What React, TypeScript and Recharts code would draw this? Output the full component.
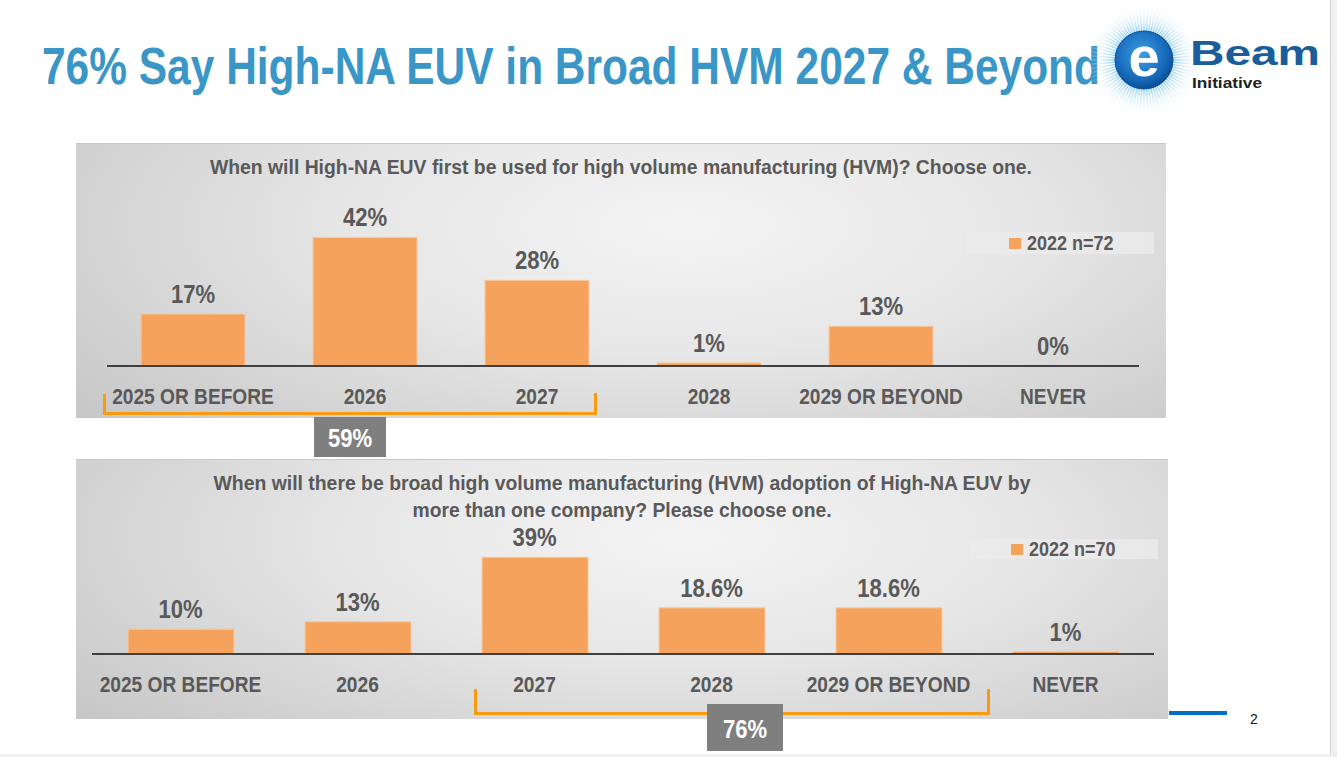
import { Bar, ComposedChart, LabelList, Legend, Line, XAxis, YAxis } from "recharts";

const FONT = "'Liberation Sans', Arial, Helvetica, sans-serif";
const BAR_COLOR = "#f5a25d";
const TEXT_GRAY = "#595959";
const BRACKET = "#f99b0f";

// chart 1: first HVM use
const firstUseYears = ["2025 OR BEFORE", "2026", "2027", "2028", "2029 OR BEYOND", "NEVER"];
const firstUseShares = [17, 42, 28, 1, 13, 0];
const firstUseSeries = "2022 n=72";
const firstUseTitle = "When will High-NA EUV first be used for high volume manufacturing (HVM)? Choose one.";

// chart 2: broad HVM adoption
const broadYears = ["2025 OR BEFORE", "2026", "2027", "2028", "2029 OR BEYOND", "NEVER"];
const broadShares = [10, 13, 39, 18.6, 18.6, 1];
const broadSeries = "2022 n=70";
const broadTitle = [
  "When will there be broad high volume manufacturing (HVM) adoption of High-NA EUV by",
  "more than one company? Please choose one.",
];

const bracketTotals = ["59%", "76%"];
const yDomain = [0, 50];
const slideTitle = "76% Say High-NA EUV in Broad HVM 2027 & Beyond";

function NarrowText({ x, y, size, fill = TEXT_GRAY, sx = 0.87, anchor = "middle", children }: any) {
  return (
    <text
      transform={`translate(${x},${y}) scale(${sx},1)`}
      textAnchor={anchor}
      fontSize={size}
      fontWeight="bold"
      fill={fill}
      fontFamily={FONT}
    >
      {children}
    </text>
  );
}

const AxisTick = (props: any) => {
  const { x, y, payload } = props;
  return (
    <NarrowText x={x} y={y + 38} size={22}>
      {payload.value}
    </NarrowText>
  );
};

// labels hang off an invisible line so that a 0% bar still gets its value
const ValueLabel = (props: any) => {
  const { x, y, value } = props;
  return (
    <NarrowText x={Number(x)} y={Number(y) - 11} size={26} sx={0.85}>
      {`${value}%`}
    </NarrowText>
  );
};

function LegendBox({ payload, w, h }: any) {
  const item = (payload || []).find((p: any) => p.type !== "none");
  const label = item ? item.value : "";
  return (
    <svg width={w} height={h} style={{ display: "block" }}>
      <rect x={0} y={0} width={w} height={h} fill="#ebebeb" fillOpacity={0.8} />
      <rect x={42} y={h / 2 - 5} width={12} height={11} fill={BAR_COLOR} />
      <NarrowText x={60} y={h / 2 + 7} size={20} anchor="start" sx={0.9}>
        {label}
      </NarrowText>
    </svg>
  );
}

function SurveyChart({ years, shares, series, width, height, margin, axisHeight, barSize, legend }: any) {
  const data = years.map((year: string, i: number) => ({ year, share: shares[i] }));
  return (
    <ComposedChart width={width} height={height} data={data} margin={margin}>
      <XAxis
        dataKey="year"
        height={axisHeight}
        interval={0}
        tickLine={false}
        tickSize={0}
        tickMargin={0}
        axisLine={{ stroke: "#404040", strokeWidth: 2 }}
        tick={<AxisTick />}
      />
      <YAxis hide domain={yDomain} />
      <Legend
        layout="vertical"
        align="center"
        verticalAlign="middle"
        wrapperStyle={{ position: "absolute", left: legend.left, top: legend.top, width: legend.w, height: legend.h }}
        content={(p: any) => <LegendBox payload={p.payload} w={legend.w} h={legend.h} />}
      />
      <Bar dataKey="share" name={series} fill={BAR_COLOR} stroke="#f9c99c" strokeWidth={1} barSize={barSize} isAnimationActive={false} />
      <Line
        dataKey="share"
        stroke="none"
        dot={false}
        activeDot={false}
        legendType="none"
        isAnimationActive={false}
      >
        <LabelList dataKey="share" content={<ValueLabel />} />
      </Line>
    </ComposedChart>
  );
}

function Logo() {
  const cx = 1144;
  const cy = 60;
  const rays = Array.from({ length: 80 }, (_, i) => (i * 2 * Math.PI) / 80);
  return (
    <g>
      <defs>
        <radialGradient id="rayGrad" cx={cx} cy={cy} r={58} gradientUnits="userSpaceOnUse">
          <stop offset="0.45" stopColor="#6cc0f0" stopOpacity={1} />
          <stop offset="1" stopColor="#ffffff" stopOpacity={0} />
        </radialGradient>
        <radialGradient id="ballGrad" cx="45%" cy="40%" r="60%">
          <stop offset="0" stopColor="#3d9fe6" />
          <stop offset="0.75" stopColor="#1668b8" />
          <stop offset="1" stopColor="#0a4d97" />
        </radialGradient>
      </defs>
      {rays.map((a, i) => (
        <line
          key={i}
          x1={cx + 20 * Math.cos(a)}
          y1={cy + 20 * Math.sin(a)}
          x2={cx + 58 * Math.cos(a)}
          y2={cy + 58 * Math.sin(a)}
          stroke="url(#rayGrad)"
          strokeWidth={1.4}
        />
      ))}
      <circle cx={cx} cy={cy} r={29} fill="url(#ballGrad)" stroke="#0b4f99" strokeWidth={1} />
      <text x={cx} y={cy + 16} textAnchor="middle" fontSize={56} fontWeight="bold" fill="#ffffff" fontFamily={FONT}>
        e
      </text>
      <text x={1190} y={65} fontSize={35} fontWeight="bold" fill="#1b5c9a" fontFamily={FONT} textLength={130} lengthAdjust="spacingAndGlyphs">
        Beam
      </text>
      <text x={1192} y={88} fontSize={14} fontWeight="bold" fill="#222222" fontFamily={FONT} textLength={70} lengthAdjust="spacingAndGlyphs">
        Initiative
      </text>
    </g>
  );
}

const panelBg =
  "radial-gradient(ellipse 75% 115% at 56% 30%, #f4f4f4 0%, #e7e7e7 40%, #c4c4c4 100%)";

export default function App() {
  return (
    <div
      style={{
        position: "absolute",
        left: 0,
        top: 0,
        width: 1337,
        height: 757,
        background: "#ffffff",
        overflow: "hidden",
        fontFamily: FONT,
      }}
    >
      <div style={{ position: "absolute", left: 1330, top: 0, width: 7, height: 757, background: "#f0f0f0", borderLeft: "1px solid #cfcfcf" }} />
      <div style={{ position: "absolute", left: 0, top: 754, width: 1337, height: 3, background: "#efefef" }} />

      <div style={{ position: "absolute", left: 76, top: 143, width: 1090, height: 275, background: panelBg, borderTop: "1px solid #c9c9c9", boxSizing: "border-box" }} />
      <div style={{ position: "absolute", left: 76, top: 459, width: 1092, height: 260, background: panelBg, borderTop: "1px solid #c9c9c9", boxSizing: "border-box" }} />

      <div style={{ position: "absolute", left: 76, top: 143 }}>
        <SurveyChart
          years={firstUseYears}
          shares={firstUseShares}
          series={firstUseSeries}
          width={1090}
          height={275}
          margin={{ top: 70, right: 27, bottom: 0, left: 31 }}
          axisHeight={52}
          barSize={104}
          legend={{ left: 891, top: 89, w: 187, h: 22 }}
        />
      </div>
      <div style={{ position: "absolute", left: 76, top: 459 }}>
        <SurveyChart
          years={broadYears}
          shares={broadShares}
          series={broadSeries}
          width={1092}
          height={260}
          margin={{ top: 71, right: 14, bottom: 0, left: 16 }}
          axisHeight={65}
          barSize={106}
          legend={{ left: 893, top: 80, w: 189, h: 20 }}
        />
      </div>

      <svg width={1337} height={757} style={{ position: "absolute", left: 0, top: 0, pointerEvents: "none" }}>
        <text x={42} y={84} fontSize={52} fontWeight="bold" fill="#3b96c8" fontFamily={FONT} textLength={1058} lengthAdjust="spacingAndGlyphs">
          {slideTitle}
        </text>
        <Logo />

        <text x={621} y={174} textAnchor="middle" fontSize={21} fontWeight="bold" fill={TEXT_GRAY} fontFamily={FONT} textLength={822} lengthAdjust="spacingAndGlyphs">
          {firstUseTitle}
        </text>
        <text x={622} y={490} textAnchor="middle" fontSize={21} fontWeight="bold" fill={TEXT_GRAY} fontFamily={FONT} textLength={817} lengthAdjust="spacingAndGlyphs">
          {broadTitle[0]}
        </text>
        <text x={622} y={517} textAnchor="middle" fontSize={21} fontWeight="bold" fill={TEXT_GRAY} fontFamily={FONT} textLength={419} lengthAdjust="spacingAndGlyphs">
          {broadTitle[1]}
        </text>

        <polyline points="104.5,394 104.5,413.5 595.5,413.5 595.5,393" fill="none" stroke={BRACKET} strokeWidth={3} />
        <rect x={314} y={417} width={72} height={40} fill="#7f7f7f" />
        <NarrowText x={350} y={447} size={26} fill="#ffffff" sx={0.85}>
          {bracketTotals[0]}
        </NarrowText>

        <polyline points="475.5,689 475.5,713.5 988.5,713.5 988.5,689" fill="none" stroke={BRACKET} strokeWidth={3} />
        <rect x={707} y={704} width={76} height={47} fill="#7f7f7f" />
        <NarrowText x={745} y={738} size={26} fill="#ffffff" sx={0.85}>
          {bracketTotals[1]}
        </NarrowText>

        <rect x={1169} y={711} width={58} height={4} fill="#0070c0" />
        <text x={1250} y={724} fontSize={14} fill="#111111" fontFamily={FONT}>
          2
        </text>
      </svg>
    </div>
  );
}
